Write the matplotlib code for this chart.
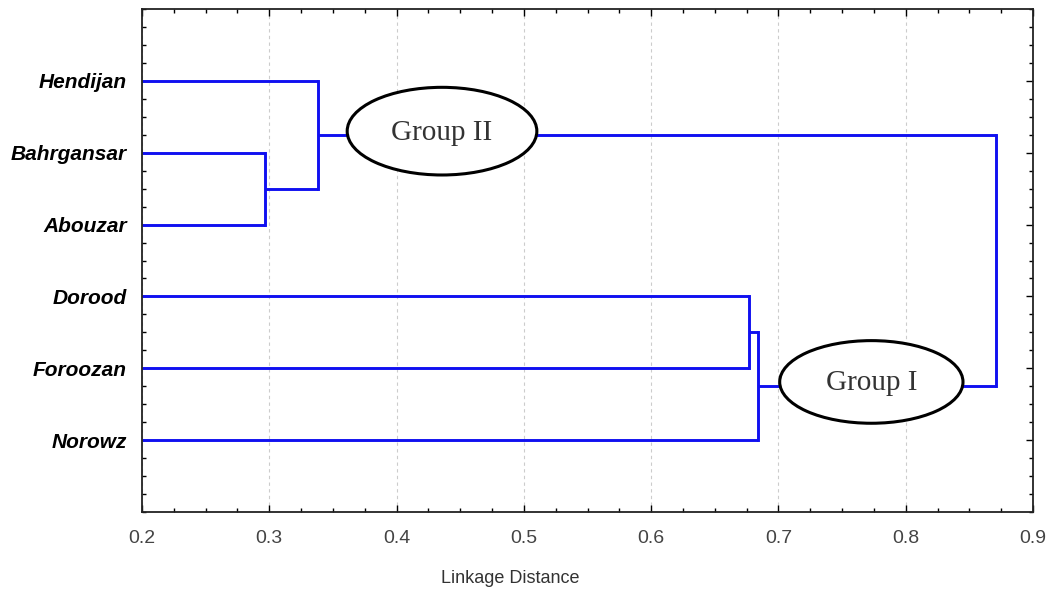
import matplotlib
matplotlib.use("Agg")
import matplotlib.pyplot as plt
from matplotlib.patches import Ellipse
from matplotlib.ticker import MultipleLocator

# leaf labels, top to bottom
leaves = ["Hendijan", "Bahrgansar", "Abouzar", "Dorood", "Foroozan", "Norowz"]
# merges: (left node, right node, linkage distance); new node ids start at len(leaves)
merges = [
    (1, 2, 0.297),
    (0, 6, 0.338),
    (3, 4, 0.677),
    (8, 5, 0.684),
    (7, 9, 0.871),
]
groups = ["Group II", "Group I"]

fig = plt.figure(figsize=(10.54, 5.89), dpi=100)
ax = fig.add_axes([142 / 1054, 77 / 589, 891 / 1054, 503 / 589])

line_color = "#1010f0"
xmin = 0.2

# positions of nodes: leaves at y = 1..6, x at left edge
node_x = [xmin] * len(leaves)
node_y = [i + 1 for i in range(len(leaves))]
for a, b, h in merges:
    ax.plot([node_x[a], h], [node_y[a], node_y[a]], color=line_color, lw=2.1, zorder=2, solid_capstyle="butt")
    ax.plot([node_x[b], h], [node_y[b], node_y[b]], color=line_color, lw=2.1, zorder=2, solid_capstyle="butt")
    ax.plot([h, h], [node_y[a], node_y[b]], color=line_color, lw=2.1, zorder=2)
    node_x.append(h)
    node_y.append((node_y[a] + node_y[b]) / 2)

# group ellipses
ell_specs = [(0.4357, 1.70, 0.149, 1.22), (0.773, 5.19, 0.144, 1.15)]
for name, (cx, cy, w, hgt) in zip(groups, ell_specs):
    ax.add_patch(Ellipse((cx, cy), w, hgt, facecolor="white", edgecolor="black", lw=2.2, zorder=4))
    ax.text(cx, cy + 0.02, name, ha="center", va="center", fontsize=21, color="#333333",
            family="Liberation Serif", zorder=5)

ax.set_xlim(0.2, 0.9)
ax.set_ylim(7, 0)

ax.xaxis.set_major_locator(MultipleLocator(0.1))
ax.xaxis.set_minor_locator(MultipleLocator(0.025))
ax.set_yticks(range(1, len(leaves) + 1))
ax.set_yticklabels(leaves)
ax.yaxis.set_minor_locator(MultipleLocator(0.25))

ax.grid(axis="x", which="major", linestyle=(0, (3, 3)), color="#cccccc", lw=0.8)
ax.set_axisbelow(True)

ax.tick_params(axis="both", which="both", direction="in", top=True, right=True, color="black")
ax.tick_params(axis="both", which="major", length=5, width=1)
ax.tick_params(axis="both", which="minor", length=3, width=1)
ax.tick_params(axis="x", which="major", pad=13, labelsize=14, labelcolor="#444444")
ax.tick_params(axis="y", which="major", pad=11)

for lab in ax.get_xticklabels():
    lab.set_family("Liberation Sans")
for lab in ax.get_yticklabels():
    lab.set_family("Liberation Sans")
    lab.set_fontsize(15)
    lab.set_fontweight("bold")
    lab.set_fontstyle("italic")

for sp in ax.spines.values():
    sp.set_linewidth(1.3)
    sp.set_color("#222222")

ax.set_xlabel("Linkage Distance", fontsize=13, color="#333333", family="Liberation Sans")
ax.xaxis.set_label_coords((510 - 142) / 891, -0.115)

fig.savefig("out.png", dpi=100)
